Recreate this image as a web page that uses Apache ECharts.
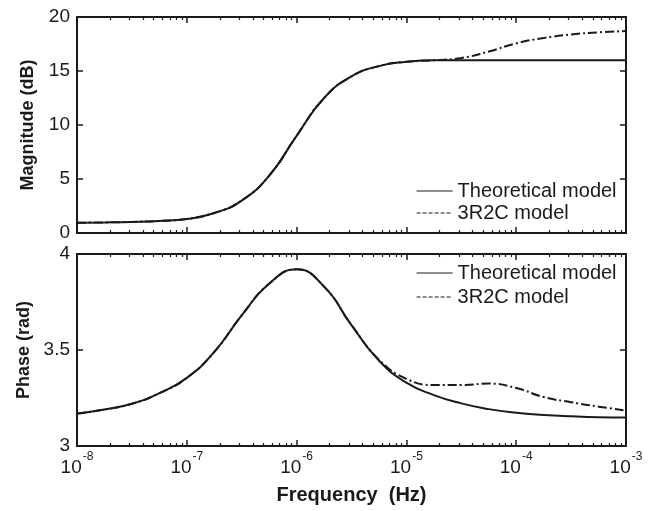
<!DOCTYPE html>
<html>
<head>
<meta charset="utf-8">
<script src="https://cdn.jsdelivr.net/npm/echarts@6/dist/echarts.min.js"></script>
<style>
html,body{margin:0;padding:0;background:#fff;}
#chart{width:658px;height:511px;}
</style>
</head>
<body>
<div id="chart"></div>
<script>
// Frequencies (Hz), quarter-decade steps
const freq = [1e-8, 1.78e-8, 3.16e-8, 5.62e-8, 1e-7, 1.78e-7, 3.16e-7, 5.62e-7, 1e-6, 1.78e-6, 3.16e-6, 5.62e-6, 1e-5, 1.78e-5, 3.16e-5, 5.62e-5, 1e-4, 1.78e-4, 3.16e-4, 5.62e-4, 1e-3];
const magTheoretical = [0.95, 0.98, 1.03, 1.12, 1.3, 1.85, 3.0, 5.3, 9.0, 12.5, 14.5, 15.45, 15.85, 16.0, 16.0, 16.0, 16.0, 16.0, 16.0, 16.0, 16.0];
const mag3R2C = [0.95, 0.98, 1.03, 1.12, 1.3, 1.85, 3.0, 5.3, 9.0, 12.5, 14.5, 15.45, 15.85, 16.0, 16.2, 16.8, 17.56, 18.05, 18.38, 18.58, 18.7];
const phaseTheoretical = [3.169, 3.19, 3.22, 3.275, 3.355, 3.49, 3.68, 3.845, 3.92, 3.83, 3.63, 3.445, 3.33, 3.265, 3.222, 3.192, 3.173, 3.162, 3.155, 3.15, 3.148];
const phase3R2C = [3.169, 3.19, 3.22, 3.275, 3.355, 3.49, 3.68, 3.845, 3.92, 3.83, 3.63, 3.45, 3.35, 3.318, 3.318, 3.325, 3.302, 3.255, 3.228, 3.205, 3.185];

const seriesNames = ['Theoretical model', '3R2C model'];
const xMajorTicks = [1e-8, 1e-7, 1e-6, 1e-5, 1e-4, 1e-3];
const minorMultipliers = [2, 3, 4, 5, 6, 7, 8, 9];
const xMinorTicks = [];
xMajorTicks.slice(0, -1).forEach(d => minorMultipliers.forEach(m => xMinorTicks.push(m * d)));
const magTicks = [0, 5, 10, 15, 20];
const phaseTicks = [3, 3.5, 4];

const ink = '#1a1a1a';
const font = 'Liberation Sans, Arial, sans-serif';

function pairs(xs, ys) { return xs.map((x, i) => [x, ys[i]]); }

function xAxesFor(g, showLabels) {
  const base = {
    type: 'log', logBase: 10, min: 1e-8, max: 1e-3, gridIndex: g,
    splitLine: {show: false}, minorTick: {show: false}
  };
  const axes = [];
  ['bottom', 'top'].forEach(pos => {
    axes.push(Object.assign({}, base, {
      position: pos,
      axisLine: {show: true, lineStyle: {color: ink, width: 2}},
      axisTick: {show: true, inside: true, length: 6, lineStyle: {color: ink, width: 1.5}, customValues: xMajorTicks},
      axisLabel: (pos === 'bottom' && showLabels) ? {
        show: true, customValues: xMajorTicks, margin: 5,
        formatter: v => '{b|10}{s|' + Math.round(Math.log10(v)) + '}',
        rich: {
          b: {fontSize: 19, fontFamily: font, color: ink, lineHeight: 26, verticalAlign: 'bottom'},
          s: {fontSize: 12, fontFamily: font, color: ink, lineHeight: 26, verticalAlign: 'top', padding: [0, 0, 0, 1]}
        }
      } : {show: false},
      name: (pos === 'bottom' && showLabels) ? 'Frequency  (Hz)' : '',
      nameLocation: 'middle', nameGap: 39,
      nameTextStyle: {fontSize: 20, fontWeight: 'bold', fontFamily: font, color: ink}
    }));
    axes.push(Object.assign({}, base, {
      position: pos,
      axisLine: {show: false},
      axisTick: {show: true, inside: true, length: 3, lineStyle: {color: ink, width: 1.2}, customValues: xMinorTicks},
      axisLabel: {show: false}
    }));
  });
  return axes;
}

function yAxesFor(g, min, max, interval, name) {
  const common = {
    type: 'value', gridIndex: g, min: min, max: max, interval: interval,
    splitLine: {show: false},
    axisLine: {show: true, lineStyle: {color: ink, width: 2}},
    axisTick: {show: true, inside: true, length: 6, lineStyle: {color: ink, width: 1.5}}
  };
  return [
    Object.assign({}, common, {
      position: 'left',
      axisLabel: {show: true, fontSize: 19, fontFamily: font, color: ink, margin: 7},
      name: name, nameLocation: 'middle', nameGap: 40,
      nameTextStyle: {fontSize: 18, fontWeight: 'bold', fontFamily: font, color: ink}
    }),
    Object.assign({}, common, {position: 'right', axisLabel: {show: false}})
  ];
}

const xAxis = xAxesFor(0, false).concat(xAxesFor(1, true));
const yAxis = yAxesFor(0, magTicks[0], magTicks[magTicks.length - 1], 5, 'Magnitude (dB)')
  .concat(yAxesFor(1, phaseTicks[0], phaseTicks[phaseTicks.length - 1], 0.5, 'Phase (rad)'));

const solid = {color: ink, width: 2, type: 'solid'};
const dashdot = {color: ink, width: 2, type: [9, 3, 2, 3]};

function legendFor(top, gap) {
  return {
    orient: 'vertical', left: 416, top: top, padding: 0, itemWidth: 36, itemHeight: 12, itemGap: gap,
    textStyle: {fontSize: 20, fontFamily: font, color: ink, lineHeight: 20},
    itemStyle: {opacity: 0},
    data: [
      {name: seriesNames[0], itemStyle: {opacity: 0}, lineStyle: {width: 1.2, type: 'solid', color: ink}},
      {name: seriesNames[1], itemStyle: {opacity: 0}, lineStyle: {width: 1.2, type: [4, 2], color: ink}}
    ],
    selectedMode: false
  };
}

const option = {
  animation: false,
  backgroundColor: '#fff',
  grid: [
    {left: 77, right: 32, top: 17, height: 216},
    {left: 77, right: 32, top: 254, height: 192}
  ],
  xAxis: xAxis,
  yAxis: yAxis,
  legend: [legendFor(181, 2), legendFor(263, 4)],
  series: [
    {name: seriesNames[0], type: 'line', xAxisIndex: 0, yAxisIndex: 0, data: pairs(freq, magTheoretical), showSymbol: false, symbol: 'none', smooth: 0.5, lineStyle: solid, itemStyle: {color: ink}},
    {name: seriesNames[1], type: 'line', xAxisIndex: 0, yAxisIndex: 0, data: pairs(freq, mag3R2C), showSymbol: false, symbol: 'none', smooth: 0.5, lineStyle: dashdot, itemStyle: {color: ink}},
    {name: seriesNames[0], type: 'line', xAxisIndex: 4, yAxisIndex: 2, data: pairs(freq, phaseTheoretical), showSymbol: false, symbol: 'none', smooth: 0.5, lineStyle: solid, itemStyle: {color: ink}},
    {name: seriesNames[1], type: 'line', xAxisIndex: 4, yAxisIndex: 2, data: pairs(freq, phase3R2C), showSymbol: false, symbol: 'none', smooth: 0.5, lineStyle: dashdot, itemStyle: {color: ink}}
  ]
};

const chart = echarts.init(document.getElementById('chart'), null, {renderer: 'canvas'});
chart.setOption(option);
</script>
</body>
</html>
